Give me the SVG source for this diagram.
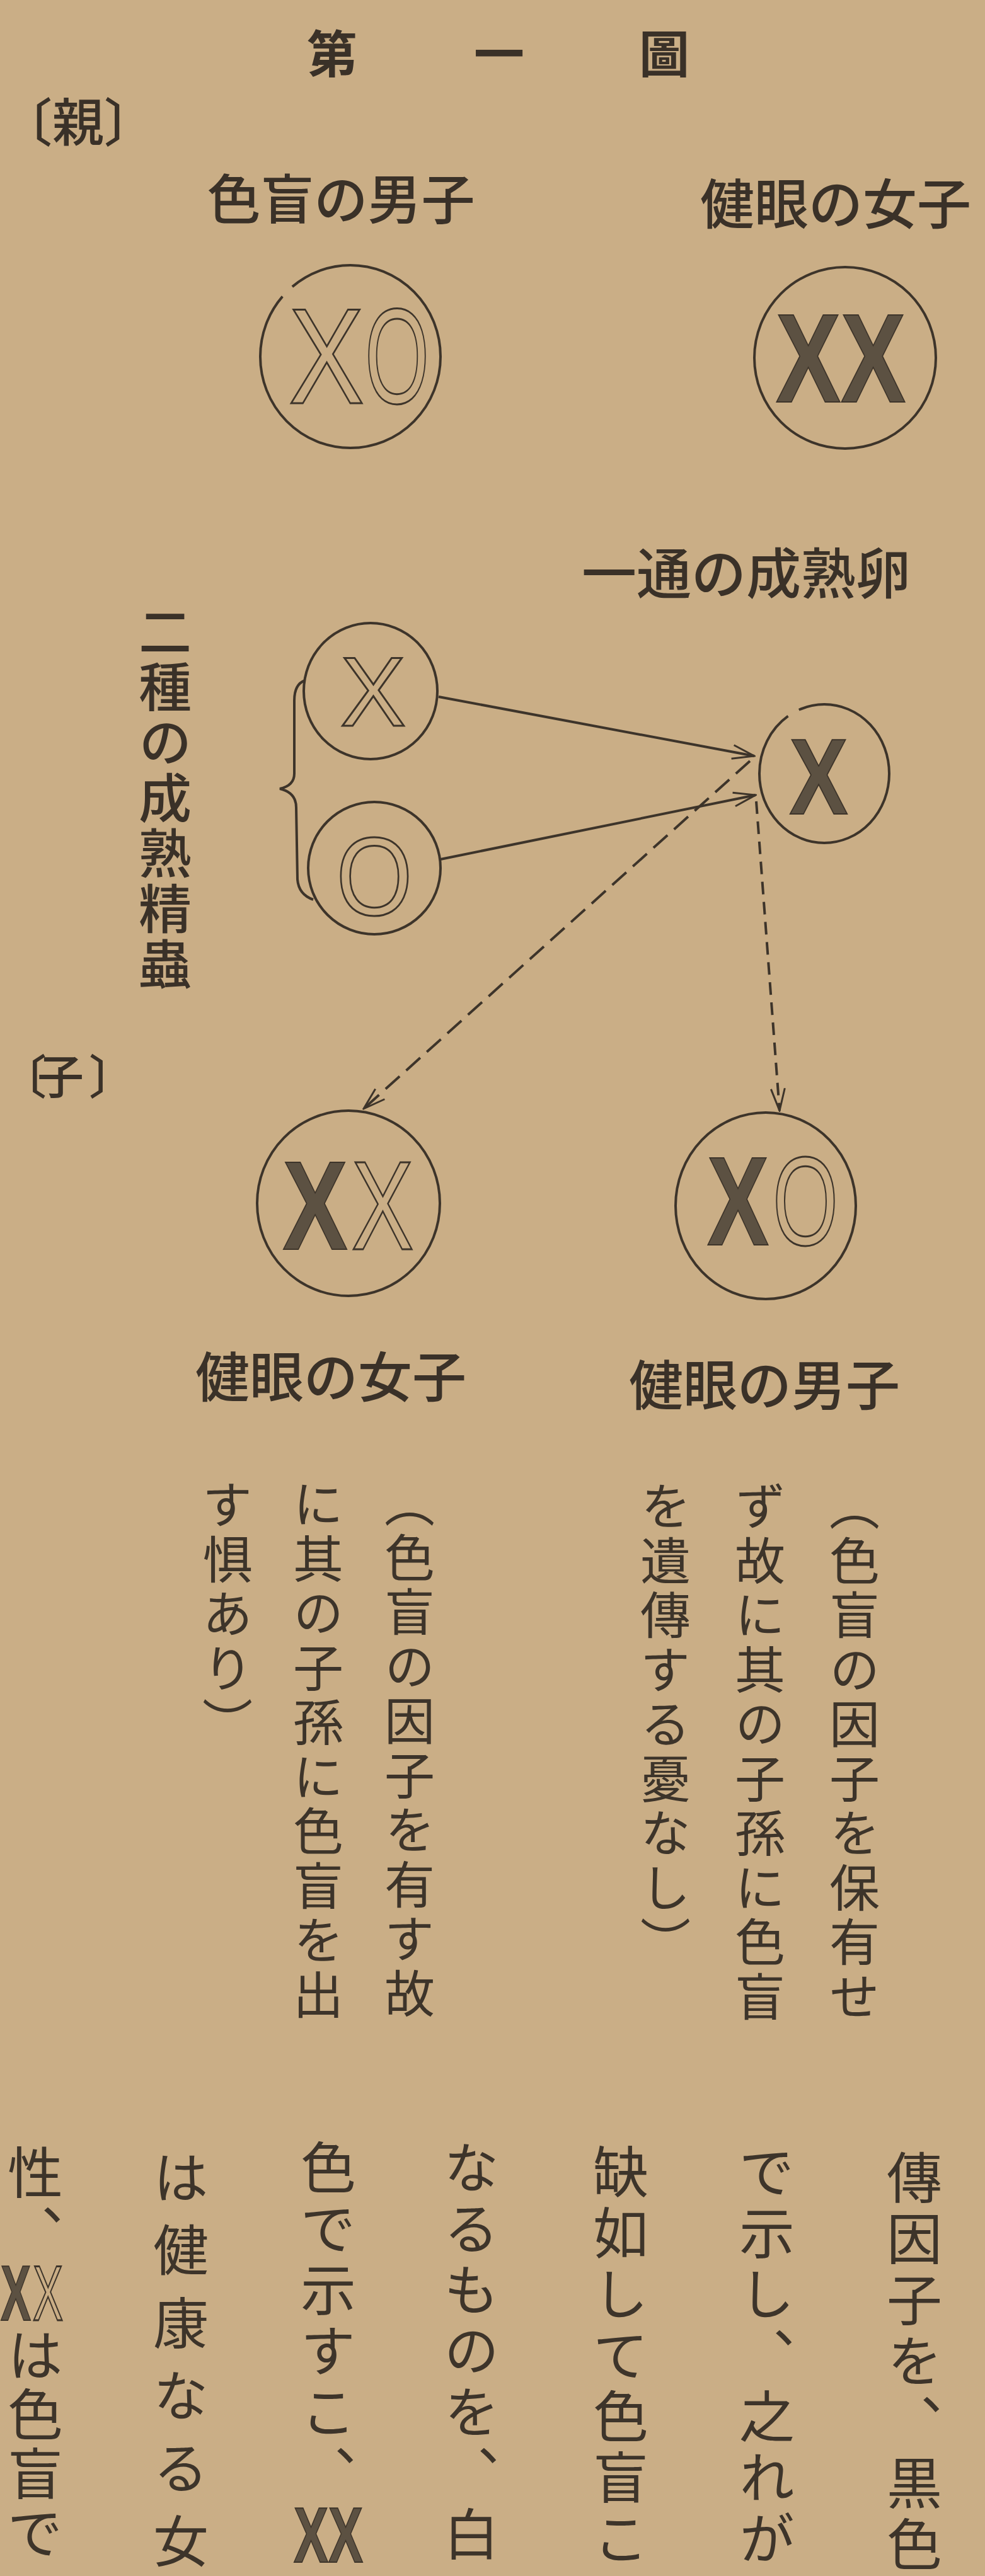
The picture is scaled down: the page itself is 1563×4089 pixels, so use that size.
<svg xmlns="http://www.w3.org/2000/svg" width="1563" height="4089" viewBox="0 0 1563 4089">
<defs>
<style>
.bg{fill:#caae86}
.ttl{font-family:"Noto Sans CJK JP","Noto Sans CJK SC",sans-serif;fill:#3a3128;font-weight:700}
.lab{font-family:"Noto Sans CJK JP","Noto Sans CJK SC",sans-serif;fill:#3a3128;font-weight:500}
.body{font-family:"Noto Sans CJK JP","Noto Sans CJK SC",sans-serif;fill:#3d342a;font-weight:400}
.vt{writing-mode:vertical-rl;text-orientation:mixed}
.ring{fill:none;stroke:#3d342a;stroke-width:4}
.lat{font-family:"Liberation Sans",Arial,sans-serif}
.xs{font-weight:700;fill:#5c5142;stroke:#3d342a;stroke-width:2}
.xh{font-weight:400;fill:none;stroke:#3d342a;stroke-width:3}
.conn{fill:none;stroke:#3d342a;stroke-width:4}
.dash1{stroke-dasharray:30 14}
.dash2{stroke-dasharray:20 12}
</style>
<marker id="ah" viewBox="0 0 38 26" refX="36" refY="13" markerWidth="38" markerHeight="26" markerUnits="userSpaceOnUse" orient="auto">
<path d="M1,2 L36,13 L1,24" fill="none" stroke="#3d342a" stroke-width="3" stroke-dasharray="none"/>
</marker>
</defs>
<rect class="bg" x="0" y="0" width="1563" height="4089"/>

<g id="title">
<text class="ttl" x="527 792 1054" y="80" text-anchor="middle" dominant-baseline="central" font-size="80">第一圖</text>
</g>
<g id="label-parents">
<text class="lab" x="42 124 206" y="188" text-anchor="middle" dominant-baseline="central" font-size="82">〔親〕</text>
</g>
<g id="label-children">
<text class="lab" x="37 96 178" y="1703" text-anchor="middle" dominant-baseline="central" font-size="74">〔子〕</text>
</g>

<g id="node-parent-male">
<text class="lab" x="541" y="310" text-anchor="middle" dominant-baseline="central" font-size="85">色盲の男子</text>
<ellipse class="ring" cx="556" cy="566" rx="143" ry="145" stroke-dasharray="556 22 1000"/>
<text class="lat xh" y="640" text-anchor="middle" font-size="216"><tspan x="518" textLength="120" lengthAdjust="spacingAndGlyphs">X</tspan><tspan x="630" textLength="102" lengthAdjust="spacingAndGlyphs">O</tspan></text>
</g>

<g id="node-parent-female">
<text class="lab" x="1326" y="318" text-anchor="middle" dominant-baseline="central" font-size="86">健眼の女子</text>
<ellipse class="ring" cx="1341" cy="568" rx="144" ry="144"/>
<text class="lat xs" x="1334" y="638" text-anchor="middle" font-size="200" textLength="206" lengthAdjust="spacingAndGlyphs">XX</text>
</g>

<g id="label-sperm">
<text class="lab vt" x="262" y="960" font-size="84" letter-spacing="4">二種の成熟精蟲</text>
</g>

<g id="node-sperm-x">
<ellipse class="ring" cx="588" cy="1097" rx="106" ry="108"/>
<text class="lat xh" x="592" y="1152" text-anchor="middle" font-size="156" textLength="104" lengthAdjust="spacingAndGlyphs">X</text>
</g>

<g id="node-sperm-o">
<ellipse class="ring" cx="594" cy="1378" rx="105" ry="105"/>
<text class="lat xh" x="594" y="1452" text-anchor="middle" font-size="177" textLength="121" lengthAdjust="spacingAndGlyphs">O</text>
</g>

<g id="sperm-brace">
<path class="conn" d="M484,1080 Q467,1086 467,1112 L467,1228 Q467,1247 444,1252 Q470,1258 470,1282 L472,1396 Q474,1420 497,1428"/>
</g>

<g id="node-egg">
<text class="lab" x="1184" y="905" text-anchor="middle" dominant-baseline="central" font-size="87">一通の成熟卵</text>
<ellipse class="ring" cx="1308" cy="1228" rx="103" ry="110" stroke-dasharray="440 20 1000"/>
<text class="lat xs" x="1299" y="1292" text-anchor="middle" font-size="170" textLength="93" lengthAdjust="spacingAndGlyphs">X</text>
</g>

<g id="node-child-female">
<ellipse class="ring" cx="553" cy="1910" rx="145" ry="147"/>
<text class="lat xh" y="1983" text-anchor="middle" font-size="200"><tspan x="500" textLength="103" lengthAdjust="spacingAndGlyphs" font-weight="700" fill="#5c5142" stroke-width="2">X</tspan><tspan x="607" textLength="99" lengthAdjust="spacingAndGlyphs">X</tspan></text>
<text class="lab" x="525" y="2180" text-anchor="middle" dominant-baseline="central" font-size="86">健眼の女子</text>
</g>

<g id="node-child-male">
<ellipse class="ring" cx="1215" cy="1914" rx="143" ry="148"/>
<text class="lat xh" y="1976" text-anchor="middle" font-size="200"><tspan x="1171" textLength="98" lengthAdjust="spacingAndGlyphs" font-weight="700" fill="#5c5142" stroke-width="2">X</tspan><tspan x="1278" textLength="104" lengthAdjust="spacingAndGlyphs">O</tspan></text>
<text class="lab" x="1213" y="2193" text-anchor="middle" dominant-baseline="central" font-size="86">健眼の男子</text>
</g>

<g id="connectors">
<path class="conn" d="M696,1106 L1197,1200" marker-end="url(#ah)"/>
<path class="conn" d="M699,1364 L1199,1262" marker-end="url(#ah)"/>
<path class="conn dash1" d="M1190,1208 L577,1760" marker-end="url(#ah)"/>
<path class="conn dash2" d="M1200,1272 L1237,1763" marker-end="url(#ah)"/>
</g>

<g id="note-male">
<text class="body vt" x="1356" y="2350" font-size="80" letter-spacing="6.5">（色盲の因子を保有せ</text>
<text class="body vt" x="1206" y="2350" font-size="80" letter-spacing="6.5">ず故に其の子孫に色盲</text>
<text class="body vt" x="1056" y="2350" font-size="80" letter-spacing="6.5">を遺傳する憂なし）</text>
</g>
<g id="note-female">
<text class="body vt" x="650" y="2345" font-size="80" letter-spacing="6.5">（色盲の因子を有す故</text>
<text class="body vt" x="505" y="2347" font-size="80" letter-spacing="6.5">に其の子孫に色盲を出</text>
<text class="body vt" x="361" y="2348" font-size="80" letter-spacing="6.5">す惧あり）</text>
</g>

<g id="body-text">
<text class="body vt" x="1451" y="3412" font-size="88" letter-spacing="9">傳因子を、黒色</text>
<text class="body vt" x="1217" y="3403" font-size="88" letter-spacing="9">で示し、之れが</text>
<text class="body vt" x="985" y="3403" font-size="88" letter-spacing="9">缺如して色盲こ</text>
<text class="body vt" x="748" y="3396" font-size="88" letter-spacing="9">なるものを、白</text>
<text class="body vt" x="521" y="3396" font-size="88" letter-spacing="9">色で示すこ、</text>
<text class="lat xs" x="521" y="4067" text-anchor="middle" font-size="125" textLength="110" lengthAdjust="spacingAndGlyphs">XX</text>
<text class="body vt" x="287" y="3412 3527 3643 3758 3873 3989" font-size="88">は健康なる女</text>
<text class="body vt" x="56" y="3404 3499" font-size="88">性、</text>
<text class="lat xh" y="3683" text-anchor="middle" font-size="125"><tspan x="25" textLength="48" lengthAdjust="spacingAndGlyphs" font-weight="700" fill="#5c5142" stroke-width="2">X</tspan><tspan x="76" textLength="48" lengthAdjust="spacingAndGlyphs">X</tspan></text>
<text class="body vt" x="56" y="3694 3788 3882 3976" font-size="88">は色盲で</text>
</g>
</svg>
